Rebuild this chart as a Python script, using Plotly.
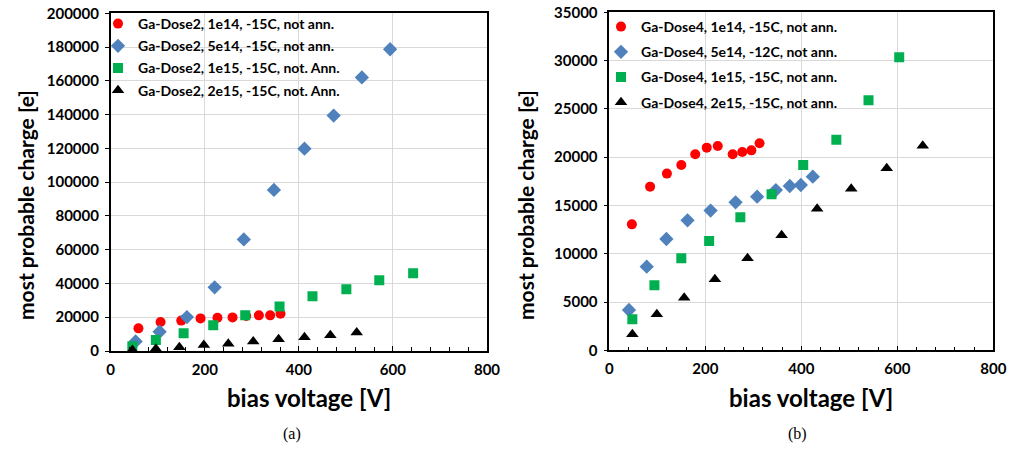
import plotly.graph_objects as go

# ---------------- data (a) Ga-Dose2 ----------------
a_names = ["Ga-Dose2, 1e14, -15C, not ann.", "Ga-Dose2, 5e14, -15C, not ann.",
           "Ga-Dose2, 1e15, -15C, not. Ann.", "Ga-Dose2, 2e15, -15C, not. Ann."]
a_red_v = [59, 106, 150, 191, 227, 259, 288, 315, 339, 361]
a_red_q = [13400, 17200, 18000, 19300, 19700, 19900, 20700, 21100, 21100, 22100]
a_blue_v = [53, 104, 162, 221, 283, 347, 412, 474, 534, 594]
a_blue_q = [5700, 11400, 20100, 37700, 66100, 95400, 119800, 139400, 162000, 178700]
a_green_v = [46, 96, 155, 218, 286, 359, 429, 501, 571, 643]
a_green_q = [2800, 6500, 10500, 15200, 21100, 26400, 32400, 36500, 41900, 46000]
a_black_v = [46, 96, 146, 198, 250, 303, 357, 412, 467, 523]
a_black_q = [600, 1300, 2200, 3500, 4300, 5700, 6900, 8100, 9300, 11000]

# ---------------- data (b) Ga-Dose4 ----------------
b_names = ["Ga-Dose4, 1e14, -15C, not ann.", "Ga-Dose4, 5e14, -12C, not ann.",
           "Ga-Dose4, 1e15, -15C, not ann.", "Ga-Dose4, 2e15, -15C, not ann."]
b_red_v = [47, 85, 120, 150, 179, 203, 226, 257, 277, 296, 313]
b_red_q = [13050, 16950, 18300, 19190, 20300, 20990, 21160, 20300, 20540, 20710, 21440]
b_blue_v = [41, 78, 119, 163, 211, 263, 308, 347, 376, 399, 424]
b_blue_q = [4180, 8670, 11530, 13470, 14470, 15330, 15910, 16600, 17020, 17120, 17980]
b_green_v = [48, 94, 150, 208, 273, 338, 404, 473, 540, 604]
b_green_q = [3220, 6740, 9530, 11330, 13780, 16160, 19190, 21810, 25890, 30340]
b_black_v = [48, 99, 156, 220, 288, 359, 433, 504, 578, 653]
b_black_q = [1670, 3740, 5460, 7360, 9540, 11920, 14670, 16740, 18850, 21190]

x_ticks = [0, 200, 400, 600, 800]
x_title = "bias voltage [V]"
y_title = "most probable charge [e]"
captions = ["(a)", "(b)"]

# ---------------- styles ----------------
colors = ["#FF0000", "#4F81BD", "#00B050", "#000000"]
symbols = ["circle", "diamond", "square", "triangle-up"]
sizes = [10, 11, 10, 11]
FONT = "Lato"

fig = go.Figure()

a_series = [(a_red_v, a_red_q), (a_blue_v, a_blue_q), (a_green_v, a_green_q), (a_black_v, a_black_q)]
b_series = [(b_red_v, b_red_q), (b_blue_v, b_blue_q), (b_green_v, b_green_q), (b_black_v, b_black_q)]

for i, (v, q) in enumerate(a_series):
    fig.add_trace(go.Scatter(x=v, y=q, mode="markers", name=a_names[i],
                             marker=dict(color=colors[i], symbol=symbols[i], size=sizes[i], line=dict(width=0)),
                             xaxis="x", yaxis="y", legend="legend", legendgroup="a%d" % i))
for i, (v, q) in enumerate(b_series):
    fig.add_trace(go.Scatter(x=v, y=q, mode="markers", name=b_names[i],
                             marker=dict(color=colors[i], symbol=symbols[i], size=sizes[i], line=dict(width=0)),
                             xaxis="x2", yaxis="y2", legend="legend2", legendgroup="b%d" % i))

tickfont = dict(family=FONT, size=15, color="black", weight="bold")

def xax(domain, anchor):
    return dict(domain=domain, anchor=anchor, range=[0, 800], tickvals=x_ticks,
                showgrid=True, gridcolor="#D9D9D9", gridwidth=1, zeroline=False,
                showline=True, linecolor="black", linewidth=1.5, mirror=True,
                ticks="inside", ticklen=5, tickcolor="black",
                minor=dict(dtick=40, ticks="inside", ticklen=4, tickcolor="black", showgrid=False),
                tickfont=tickfont, ticklabelstandoff=4, fixedrange=True, automargin=False)

def yax(domain, anchor, rng, dtick):
    return dict(domain=domain, anchor=anchor, range=rng, dtick=dtick,
                showgrid=True, gridcolor="#D9D9D9", gridwidth=1, zeroline=False,
                showline=True, linecolor="black", linewidth=1.5, mirror=True,
                ticks="outside", ticklen=4, tickcolor="black",
                tickfont=tickfont, ticklabelstandoff=3, tickformat="d", fixedrange=True,
                automargin=False)

W, H = 1010, 449
legfont = dict(family=FONT, size=14, color="black", weight="bold")

fig.update_layout(
    width=W, height=H, margin=dict(l=0, r=0, t=0, b=0, pad=0, autoexpand=False),
    paper_bgcolor="white", plot_bgcolor="white",
    xaxis=xax([110.7 / W, 487 / W], "y"),
    yaxis=yax([1 - 351 / H, 1 - 13.3 / H], "x", [0, 200000], 20000),
    xaxis2=xax([609.3 / W, 993.3 / W], "y2"),
    yaxis2=yax([1 - 350.4 / H, 1 - 12.3 / H], "x2", [0, 35000], 5000),
    legend=dict(x=98 / W, y=1 - 8 / H, xanchor="left", yanchor="top", bgcolor="rgba(0,0,0,0)",
                font=legfont, tracegroupgap=1, itemclick=False),
    legend2=dict(x=601 / W, y=1 - 11 / H, xanchor="left", yanchor="top", bgcolor="rgba(0,0,0,0)",
                 font=legfont, tracegroupgap=4, itemclick=False),
    showlegend=True,
)

xtitlefont = dict(family=FONT, size=24, color="black", weight="bold")
ytitlefont = dict(family=FONT, size=21, color="black", weight="bold")
capfont = dict(family="Liberation Serif", size=16, color="black")
ymid = 1 - 205 / H
for xc_t, xc_y, xc_c, cap in [(309 / W, 25 / W, 292 / W, captions[0]),
                              (811 / W, 525 / W, 797 / W, captions[1])]:
    fig.add_annotation(text=x_title, x=xc_t, y=1 - 397 / H, xref="paper", yref="paper",
                       showarrow=False, font=xtitlefont, xanchor="center", yanchor="middle")
    fig.add_annotation(text=y_title, x=xc_y, y=ymid, xref="paper", yref="paper", textangle=-90,
                       showarrow=False, font=ytitlefont, xanchor="center", yanchor="middle")
    fig.add_annotation(text=cap, x=xc_c, y=1 - 434 / H, xref="paper", yref="paper",
                       showarrow=False, font=capfont, xanchor="center", yanchor="middle")

fig.write_html("out.html", config={"displayModeBar": False},
               post_script="document.body.style.margin='0px';document.body.style.overflow='hidden';")
